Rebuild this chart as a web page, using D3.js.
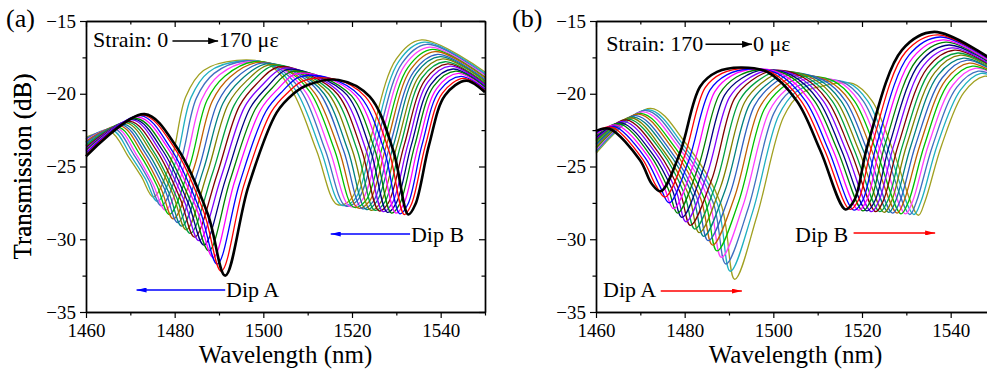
<!DOCTYPE html>
<html>
<head>
<meta charset="utf-8">
<script src="https://cdn.jsdelivr.net/npm/d3@7"></script>
<style>
  body { margin: 0; background: #fff; }
  svg { display: block; }
</style>
</head>
<body>
<svg id="chart" width="987" height="376"></svg>
<script>
const strainSteps = [0, 10, 20, 30, 40, 50, 60, 70, 80, 90, 100, 110, 120, 130, 140, 150, 160, 170];
const lineColors = ['#000000', '#ff0000', '#0000ff', '#ff00ff', '#008000', '#000080', '#8000ff', '#800000', '#00a040',
                    '#808000', '#008080', '#3060c0', '#c06000', '#00c000', '#ff40ff', '#4070c0', '#20b0c0', '#a0a020'];
const xMajor = [1460, 1480, 1500, 1520, 1540];
const xMinor = [1470, 1490, 1510, 1530, 1550];
const yMajor = [-15, -20, -25, -30, -35];
const yMinor = [-17.5, -22.5, -27.5, -32.5];

// key points of each spectrum: one row per key point, one column per curve (strain step)
// panel (a): 0 -> 170 με
const aNm = [
  [1460,1460,1460,1460,1460,1460,1460,1460,1460,1460,1460,1460,1460,1460,1460,1460,1460,1460],
  [1473.2,1472.7,1472.3,1471.8,1471.4,1470.9,1470.5,1470.0,1469.6,1469.1,1468.7,1468.2,1467.8,1467.3,1466.9,1466.4,1466.0,1465.5],
  [1480.5,1479.9,1479.2,1478.6,1477.9,1477.3,1476.6,1476.0,1475.3,1474.7,1474.0,1473.4,1472.7,1472.1,1471.4,1470.8,1470.1,1469.5],
  [1487.5,1486.6,1485.7,1484.9,1484.0,1483.1,1482.2,1481.3,1480.4,1479.6,1478.7,1477.8,1476.9,1476.0,1475.1,1474.3,1473.4,1472.5],
  [1491.4,1490.5,1489.6,1488.7,1487.7,1486.6,1485.5,1484.5,1483.5,1482.6,1481.6,1480.7,1479.7,1478.8,1477.9,1477.0,1476.1,1475.2],
  [1496.6,1495.6,1494.6,1493.5,1492.5,1491.5,1490.5,1489.5,1488.5,1487.4,1486.4,1485.4,1484.4,1483.4,1482.3,1481.3,1480.3,1479.3],
  [1503.0,1501.8,1500.6,1499.4,1498.2,1497.0,1495.8,1494.6,1493.4,1492.1,1490.9,1489.7,1488.5,1487.3,1486.1,1484.9,1483.7,1482.5],
  [1506.8,1505.6,1504.4,1503.2,1502.0,1500.8,1499.6,1498.4,1497.2,1496.1,1494.9,1493.7,1492.5,1491.3,1490.1,1488.9,1487.7,1486.5],
  [1510.0,1509.1,1508.1,1507.2,1506.2,1505.3,1504.4,1503.4,1502.5,1501.5,1500.6,1499.6,1498.7,1497.8,1496.8,1495.9,1494.9,1494.0],
  [1517.0,1516.1,1515.1,1514.2,1513.2,1512.3,1511.4,1510.4,1509.5,1508.5,1507.6,1506.6,1505.7,1504.8,1503.8,1502.9,1501.9,1501.0],
  [1524.0,1523.0,1521.9,1520.9,1519.9,1518.9,1517.8,1516.8,1515.8,1514.7,1513.7,1512.7,1511.6,1510.6,1509.6,1508.6,1507.5,1506.5],
  [1529.3,1528.3,1527.3,1526.2,1525.2,1524.2,1523.2,1522.2,1521.2,1520.1,1519.1,1518.1,1517.1,1516.1,1515.0,1514.0,1513.0,1512.0],
  [1532.7,1531.8,1530.8,1529.9,1528.9,1528.0,1527.0,1526.1,1525.1,1524.2,1523.2,1522.3,1521.3,1520.4,1519.5,1518.5,1517.6,1516.6],
  [1534.3,1533.4,1532.6,1531.7,1530.8,1530.0,1529.1,1528.2,1527.4,1526.5,1525.6,1524.8,1523.9,1523.1,1522.2,1521.3,1520.5,1519.6],
  [1537.4,1536.6,1535.8,1535.0,1534.2,1533.4,1532.6,1531.8,1531.0,1530.2,1529.4,1528.6,1527.8,1527.0,1526.2,1525.4,1524.6,1523.8],
  [1541.0,1540.4,1539.7,1539.1,1538.4,1537.8,1537.1,1536.5,1535.8,1535.2,1534.5,1533.9,1533.2,1532.6,1531.9,1531.3,1530.6,1530.0],
  [1545.8,1545.2,1544.6,1544.0,1543.4,1542.8,1542.2,1541.6,1541.0,1540.5,1539.9,1539.3,1538.7,1538.1,1537.5,1536.9,1536.3,1535.7],
  [1550,1550,1550,1550,1550,1550,1550,1550,1550,1550,1550,1550,1550,1550,1550,1550,1550,1550]
];
const aDb = [
  [-24.3,-24.2,-24.1,-24.0,-23.9,-23.9,-23.8,-23.7,-23.6,-23.6,-23.5,-23.4,-23.3,-23.3,-23.2,-23.1,-23.1,-23.0],
  [-21.4,-21.45,-21.5,-21.6,-21.7,-21.75,-21.8,-21.9,-21.95,-22.0,-22.1,-22.15,-22.2,-22.3,-22.35,-22.4,-22.5,-22.6],
  [-23.7,-23.7,-23.8,-23.8,-23.85,-23.9,-23.9,-23.95,-24.0,-24.0,-24.05,-24.1,-24.1,-24.15,-24.2,-24.2,-24.25,-24.3],
  [-28.3,-28.15,-28.0,-27.85,-27.7,-27.55,-27.4,-27.25,-27.1,-26.9,-26.8,-26.6,-26.5,-26.3,-26.2,-26.0,-25.85,-25.7],
  [-32.5,-32.2,-31.7,-31.25,-30.8,-30.4,-30.1,-29.85,-29.6,-29.35,-29.1,-28.85,-28.6,-28.3,-28.0,-27.7,-27.4,-27.1],
  [-26.4,-26.3,-26.2,-26.05,-25.95,-25.85,-25.7,-25.6,-25.5,-25.4,-25.3,-25.2,-25.05,-24.95,-24.85,-24.75,-24.6,-24.5],
  [-21.3,-21.25,-21.2,-21.1,-21.05,-21.0,-20.9,-20.85,-20.8,-20.7,-20.65,-20.6,-20.5,-20.45,-20.4,-20.3,-20.25,-20.2],
  [-20.0,-19.9,-19.8,-19.7,-19.6,-19.55,-19.45,-19.35,-19.25,-19.15,-19.05,-18.95,-18.85,-18.8,-18.7,-18.6,-18.5,-18.4],
  [-19.4,-19.1,-18.85,-18.65,-18.5,-18.35,-18.25,-18.15,-18.05,-18.0,-17.95,-17.9,-17.85,-17.8,-17.8,-17.75,-17.75,-17.7],
  [-19.05,-19.0,-18.95,-18.9,-18.85,-18.8,-18.75,-18.7,-18.65,-18.6,-18.5,-18.45,-18.4,-18.3,-18.2,-18.15,-18.05,-17.95],
  [-20.2,-20.2,-20.2,-20.15,-20.15,-20.1,-20.1,-20.05,-20.05,-20.0,-20.0,-19.95,-19.95,-19.9,-19.9,-19.85,-19.85,-19.8],
  [-23.9,-23.9,-23.9,-23.9,-23.9,-23.9,-23.9,-23.9,-23.9,-23.9,-23.9,-23.9,-23.9,-23.9,-23.9,-23.9,-23.9,-23.9],
  [-28.3,-28.3,-28.25,-28.2,-28.2,-28.15,-28.1,-28.05,-28.0,-28.0,-27.95,-27.9,-27.85,-27.8,-27.75,-27.7,-27.65,-27.6],
  [-27.6,-27.6,-27.6,-27.55,-27.55,-27.5,-27.5,-27.5,-27.45,-27.45,-27.4,-27.4,-27.4,-27.35,-27.35,-27.3,-27.3,-27.3],
  [-23.5,-23.5,-23.5,-23.5,-23.5,-23.5,-23.5,-23.5,-23.5,-23.5,-23.5,-23.5,-23.5,-23.5,-23.5,-23.5,-23.5,-23.5],
  [-20.1,-19.95,-19.8,-19.65,-19.5,-19.35,-19.2,-19.05,-18.9,-18.75,-18.6,-18.5,-18.35,-18.2,-18.05,-17.9,-17.75,-17.6],
  [-19.1,-18.95,-18.8,-18.6,-18.45,-18.3,-18.1,-17.95,-17.8,-17.6,-17.45,-17.3,-17.1,-16.95,-16.8,-16.6,-16.45,-16.3],
  [-19.9,-19.8,-19.7,-19.65,-19.55,-19.5,-19.4,-19.35,-19.25,-19.15,-19.1,-19.0,-18.9,-18.85,-18.75,-18.7,-18.6,-18.5]
];

// panel (b): 170 -> 0 με
const bNm = [
  [1460,1460,1460,1460,1460,1460,1460,1460,1460,1460,1460,1460,1460,1460,1460,1460,1460,1460],
  [1463.0,1463.5,1464.1,1464.6,1465.2,1465.7,1466.3,1466.8,1467.4,1467.9,1468.5,1469.0,1469.6,1470.1,1470.7,1471.2,1471.8,1472.3],
  [1469.9,1470.5,1471.1,1471.7,1472.3,1472.9,1473.5,1474.1,1474.7,1475.2,1475.8,1476.4,1477.0,1477.6,1478.2,1478.8,1479.4,1480.0],
  [1472.6,1473.5,1474.4,1475.4,1476.3,1477.2,1478.1,1479.0,1479.9,1480.9,1481.8,1482.7,1483.6,1484.5,1485.5,1486.4,1487.3,1488.2],
  [1474.6,1475.6,1476.5,1477.5,1478.4,1479.4,1480.3,1481.3,1482.3,1483.3,1484.3,1485.3,1486.3,1487.3,1488.3,1489.3,1490.3,1491.3],
  [1478.9,1479.9,1480.9,1482.0,1483.0,1484.0,1485.0,1486.1,1487.1,1488.1,1489.1,1490.2,1491.2,1492.2,1493.2,1494.3,1495.3,1496.3],
  [1483.5,1484.6,1485.7,1486.8,1487.9,1489.0,1490.1,1491.2,1492.3,1493.5,1494.6,1495.7,1496.8,1497.9,1499.0,1500.1,1501.2,1502.3],
  [1487.3,1488.4,1489.5,1490.6,1491.7,1492.8,1493.9,1495.0,1496.1,1497.2,1498.4,1499.5,1500.6,1501.7,1502.8,1503.9,1505.0,1506.1],
  [1492.6,1493.7,1494.7,1495.8,1496.8,1497.9,1498.9,1500.0,1501.1,1502.1,1503.2,1504.2,1505.3,1506.4,1507.4,1508.5,1509.5,1510.6],
  [1498.6,1499.7,1500.9,1502.0,1503.2,1504.3,1505.4,1506.6,1507.7,1508.9,1510.0,1511.2,1512.3,1513.4,1514.6,1515.7,1516.9,1518.0],
  [1505.3,1506.3,1507.3,1508.3,1509.3,1510.3,1511.3,1512.3,1513.3,1514.3,1515.3,1516.3,1517.3,1518.3,1519.3,1520.3,1521.3,1522.3],
  [1510.6,1511.6,1512.5,1513.5,1514.5,1515.4,1516.4,1517.4,1518.3,1519.3,1520.3,1521.2,1522.2,1523.2,1524.1,1525.1,1526.0,1527.0],
  [1516.3,1517.3,1518.2,1519.2,1520.2,1521.1,1522.1,1523.1,1524.0,1525.0,1526.0,1526.9,1527.9,1528.8,1529.8,1530.8,1531.7,1532.7],
  [1518.3,1519.2,1520.2,1521.1,1522.0,1523.0,1523.9,1524.8,1525.8,1526.7,1527.6,1528.6,1529.5,1530.5,1531.4,1532.3,1533.3,1534.2],
  [1521.3,1522.3,1523.3,1524.2,1525.2,1526.2,1527.2,1528.2,1529.2,1530.1,1531.1,1532.1,1533.1,1534.1,1535.0,1536.0,1537.0,1538.0],
  [1529.0,1529.8,1530.6,1531.5,1532.3,1533.1,1533.9,1534.8,1535.6,1536.4,1537.2,1538.1,1538.9,1539.7,1540.5,1541.4,1542.2,1543.0],
  [1536.3,1537.0,1537.6,1538.3,1538.9,1539.6,1540.3,1540.9,1541.6,1542.2,1542.9,1543.5,1544.2,1544.9,1545.5,1546.2,1546.8,1547.5],
  [1550,1550,1550,1550,1550,1550,1550,1550,1550,1550,1550,1550,1550,1550,1550,1550,1550,1550]
];
const bDb = [
  [-22.55,-22.6,-22.7,-22.8,-22.9,-23.0,-23.1,-23.15,-23.25,-23.35,-23.45,-23.55,-23.65,-23.75,-23.85,-23.95,-24.0,-24.1],
  [-22.4,-22.3,-22.25,-22.15,-22.05,-22.0,-21.9,-21.8,-21.75,-21.65,-21.6,-21.5,-21.4,-21.35,-21.25,-21.15,-21.1,-21.0],
  [-24.55,-24.5,-24.4,-24.3,-24.25,-24.2,-24.1,-24.05,-23.95,-23.9,-23.8,-23.75,-23.65,-23.6,-23.5,-23.45,-23.4,-23.3],
  [-26.2,-26.3,-26.35,-26.45,-26.55,-26.6,-26.7,-26.8,-26.85,-26.95,-27.0,-27.1,-27.2,-27.25,-27.35,-27.45,-27.5,-27.6],
  [-26.7,-27.1,-27.5,-27.9,-28.2,-28.5,-28.8,-29.05,-29.3,-29.55,-29.8,-30.1,-30.4,-30.8,-31.25,-31.7,-32.2,-32.75],
  [-24.1,-24.35,-24.6,-24.85,-25.1,-25.35,-25.6,-25.9,-26.15,-26.4,-26.65,-26.9,-27.15,-27.4,-27.65,-27.9,-28.15,-28.4],
  [-19.5,-19.6,-19.75,-19.85,-20.0,-20.1,-20.25,-20.35,-20.5,-20.6,-20.75,-20.85,-21.0,-21.1,-21.25,-21.35,-21.5,-21.6],
  [-18.5,-18.6,-18.7,-18.75,-18.85,-18.95,-19.05,-19.1,-19.2,-19.3,-19.4,-19.45,-19.55,-19.65,-19.75,-19.8,-19.9,-20.0],
  [-18.2,-18.25,-18.3,-18.3,-18.35,-18.35,-18.4,-18.4,-18.45,-18.5,-18.55,-18.65,-18.75,-18.85,-19.0,-19.15,-19.3,-19.5],
  [-18.5,-18.55,-18.6,-18.65,-18.7,-18.75,-18.8,-18.85,-18.9,-18.95,-19.0,-19.05,-19.1,-19.1,-19.15,-19.2,-19.25,-19.3],
  [-20.5,-20.5,-20.5,-20.5,-20.5,-20.5,-20.5,-20.5,-20.5,-20.5,-20.5,-20.5,-20.5,-20.5,-20.5,-20.5,-20.5,-20.5],
  [-23.9,-23.9,-23.9,-23.9,-23.9,-23.9,-23.9,-23.9,-23.9,-23.9,-23.9,-23.9,-23.9,-23.9,-23.9,-23.9,-23.9,-23.9],
  [-27.95,-27.95,-28.0,-28.0,-28.05,-28.05,-28.1,-28.1,-28.1,-28.15,-28.15,-28.2,-28.2,-28.25,-28.25,-28.3,-28.3,-28.35],
  [-27.3,-27.3,-27.3,-27.3,-27.3,-27.3,-27.3,-27.35,-27.35,-27.35,-27.35,-27.35,-27.35,-27.4,-27.4,-27.4,-27.4,-27.4],
  [-23.5,-23.5,-23.5,-23.5,-23.5,-23.5,-23.5,-23.5,-23.5,-23.5,-23.5,-23.5,-23.5,-23.5,-23.5,-23.5,-23.5,-23.5],
  [-17.0,-17.15,-17.35,-17.5,-17.7,-17.85,-18.05,-18.2,-18.35,-18.55,-18.7,-18.9,-19.05,-19.2,-19.4,-19.55,-19.75,-19.9],
  [-15.75,-15.95,-16.1,-16.3,-16.45,-16.65,-16.85,-17.0,-17.2,-17.35,-17.55,-17.7,-17.9,-18.1,-18.25,-18.45,-18.6,-18.8],
  [-17.8,-17.85,-17.9,-18.0,-18.05,-18.1,-18.2,-18.25,-18.3,-18.4,-18.45,-18.5,-18.6,-18.65,-18.7,-18.8,-18.9,-19.0]
];

const serif = '"Liberation Serif", "Times New Roman", serif';
const svg = d3.select('#chart');
const plotW = 399, plotH = 291, plotTop = 21;

const defs = svg.append('defs');
function addMarker(id, color, len, half) {
  defs.append('marker')
    .attr('id', id)
    .attr('viewBox', `0 ${-half} ${len} ${half * 2}`)
    .attr('refX', len).attr('refY', 0)
    .attr('markerWidth', len).attr('markerHeight', half * 2)
    .attr('markerUnits', 'userSpaceOnUse')
    .attr('orient', 'auto')
    .append('path')
    .attr('d', `M0,${-half}L${len},0L0,${half}Z`)
    .attr('fill', color);
}
addMarker('head-black', '#000', 10, 3.5);
addMarker('head-blue', '#0000ff', 10, 2.5);
addMarker('head-red', '#ff0000', 10, 2.5);

function drawPanel(cfg) {
  const g = svg.append('g').attr('transform', `translate(${cfg.left}, ${plotTop})`)
    .attr('font-family', serif);

  const x = d3.scaleLinear().domain([1460, 1550]).range([0, plotW]);
  const y = d3.scaleLinear().domain([-35, -15]).range([plotH, 0]);

  // spectra
  const line = d3.line()
    .x(d => x(d[0]))
    .y(d => y(d[1]))
    .curve(d3.curveCatmullRom.alpha(0.5));

  const curves = strainSteps.map((s, i) => cfg.nm.map((row, k) => [row[i], cfg.db[k][i]]));
  const order = d3.range(curves.length).reverse();
  g.append('g').selectAll('path')
    .data(order)
    .enter()
    .append('path')
    .attr('d', i => line(curves[i]))
    .attr('fill', 'none')
    .attr('stroke', i => lineColors[i])
    .attr('stroke-width', i => i === 0 ? 2.6 : 1.3)
    .attr('stroke-linejoin', 'round');

  // axes
  g.append('g').attr('transform', `translate(0, ${plotH})`)
    .call(d3.axisBottom(x).tickValues(xMajor).tickSize(6).tickSizeOuter(0).tickPadding(5.5).tickFormat(d3.format('d')));
  g.append('g').attr('transform', `translate(0, ${plotH})`)
    .call(d3.axisBottom(x).tickValues(xMinor).tickSize(3.5).tickSizeOuter(0).tickFormat(''));

  g.append('g')
    .call(d3.axisLeft(y).tickValues(yMajor).tickSize(6).tickSizeOuter(0).tickPadding(4).tickFormat(d3.format('d')));
  g.append('g').call(d3.axisLeft(y).tickValues(yMinor).tickSize(3.5).tickSizeOuter(0).tickFormat(''));

  g.append('g').call(d3.axisTop(x).tickValues(xMajor).tickSize(-6).tickSizeOuter(0).tickFormat(''));
  g.append('g').call(d3.axisTop(x).tickValues(xMinor).tickSize(-3.5).tickSizeOuter(0).tickFormat(''));
  g.append('g').attr('transform', `translate(${plotW}, 0)`)
    .call(d3.axisRight(y).tickValues(yMajor).tickSize(-6).tickSizeOuter(0).tickFormat(''));
  g.append('g').attr('transform', `translate(${plotW}, 0)`)
    .call(d3.axisRight(y).tickValues(yMinor).tickSize(-3.5).tickSizeOuter(0).tickFormat(''));

  g.selectAll('.domain').attr('stroke', '#000').attr('stroke-width', 1.4);
  g.selectAll('.tick line').attr('stroke', '#000').attr('stroke-width', 1.2);
  g.selectAll('g').attr('font-family', serif);
  g.selectAll('.tick text').attr('font-size', 19).attr('fill', '#000');

  // axis titles
  g.append('text')
    .attr('x', plotW / 2)
    .attr('y', 342)
    .attr('text-anchor', 'middle')
    .attr('font-size', 25)
    .text('Wavelength (nm)');
  g.append('text')
    .attr('transform', `translate(${-cfg.left + 31}, ${plotH / 2}) rotate(-90)`)
    .attr('text-anchor', 'middle')
    .attr('font-size', 25)
    .text('Transmission (dB)');

  // panel letter
  g.append('text')
    .attr('x', cfg.letterX)
    .attr('y', 6)
    .attr('font-size', 26)
    .text(cfg.letter);

  // strain note
  const s = cfg.strain;
  g.append('text').attr('x', x(s.textNm)).attr('y', y(s.textDb))
    .attr('font-size', 22).text(s.from);
  g.append('line')
    .attr('x1', x(s.arrow[0])).attr('x2', x(s.arrow[1]))
    .attr('y1', y(s.arrowDb)).attr('y2', y(s.arrowDb))
    .attr('stroke', '#000').attr('stroke-width', 1.5)
    .attr('marker-end', 'url(#head-black)');
  g.append('text').attr('x', x(s.arrow[1]) + 1).attr('y', y(s.textDb))
    .attr('font-size', 22).text(s.to);

  // dip notes
  cfg.dips.forEach(d => {
    g.append('text').attr('x', x(d.textNm)).attr('y', y(d.textDb))
      .attr('font-size', 22).text(d.label);
    g.append('line')
      .attr('x1', x(d.arrow[0])).attr('x2', x(d.arrow[1]))
      .attr('y1', y(d.arrowDb)).attr('y2', y(d.arrowDb))
      .attr('stroke', cfg.arrowColor).attr('stroke-width', 1.5)
      .attr('marker-end', `url(#${cfg.marker})`);
  });
}

drawPanel({
  left: 86, nm: aNm, db: aDb, letter: '(a)', letterX: -80,
  arrowColor: '#0000ff', marker: 'head-blue',
  strain: { from: 'Strain: 0', to: '170 με', textNm: 1461.6, textDb: -16.8, arrow: [1479.5, 1489.8], arrowDb: -16.37 },
  dips: [
    { label: 'Dip A', textNm: 1491.6, textDb: -33.97, arrow: [1491.4, 1471.4], arrowDb: -33.49 },
    { label: 'Dip B', textNm: 1533.3, textDb: -30.2, arrow: [1533.1, 1515.2], arrowDb: -29.64 }
  ]
});

drawPanel({
  left: 596, nm: bNm, db: bDb, letter: '(b)', letterX: -84,
  arrowColor: '#ff0000', marker: 'head-red',
  strain: { from: 'Strain: 170', to: '0 με', textNm: 1462.3, textDb: -17.06, arrow: [1484.7, 1495.2], arrowDb: -16.6 },
  dips: [
    { label: 'Dip A', textNm: 1461.6, textDb: -33.97, arrow: [1474.6, 1492.9], arrowDb: -33.56 },
    { label: 'Dip B', textNm: 1504.9, textDb: -30.2, arrow: [1518.1, 1536.5], arrowDb: -29.57 }
  ]
});
</script>
</body>
</html>
